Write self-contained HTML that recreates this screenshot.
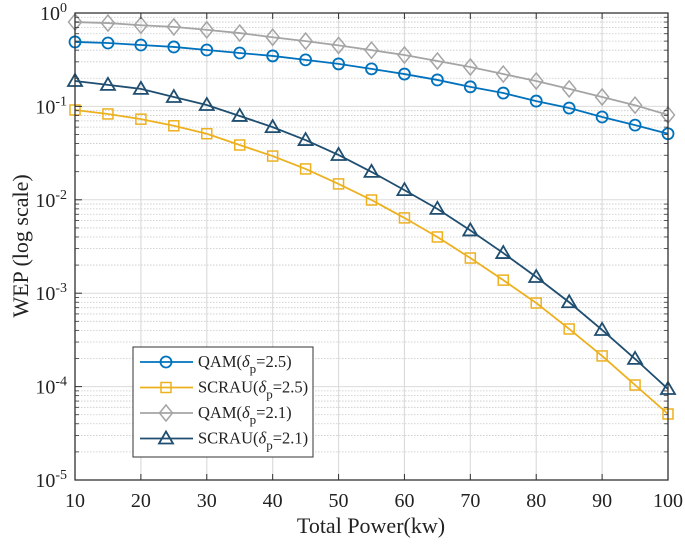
<!DOCTYPE html>
<html><head><meta charset="utf-8"><style>
html,body{margin:0;padding:0;background:#fff;}
svg{display:block;font-family:"Liberation Serif",serif;}
</style></head><body>
<svg id="chart" width="685" height="545" viewBox="0 0 685 545" xmlns="http://www.w3.org/2000/svg">
<rect width="685" height="545" fill="#fff"/>
<g id="grid"></g>
<g id="series"></g>
<g id="axes"></g>
<text x="371" y="533" font-size="22" text-anchor="middle" fill="#222">Total Power(kw)</text>
<text transform="translate(28,246) rotate(-90)" font-size="22" text-anchor="middle" fill="#222">WEP (log scale)</text>
<g id="legend"></g>
</svg>
<script>
const xValues=[10,15,20,25,30,35,40,45,50,55,60,65,70,75,80,85,90,95,100];
const qam25=[0.49,0.477,0.454,0.433,0.402,0.373,0.347,0.315,0.285,0.252,0.222,0.192,0.162,0.139,0.114,0.096,0.077,0.063,0.051];
const scrau25=[0.0915,0.083,0.073,0.062,0.051,0.0386,0.0294,0.0214,0.0148,0.00995,0.0064,0.0040,0.00238,0.00138,0.000785,0.000414,0.000213,0.000104,0.0000509];
const qam21=[0.80,0.78,0.74,0.71,0.66,0.61,0.55,0.50,0.45,0.40,0.355,0.306,0.264,0.222,0.187,0.154,0.126,0.103,0.081];
const scrau21=[0.187,0.170,0.154,0.126,0.1035,0.079,0.060,0.0436,0.0302,0.0199,0.0127,0.0080,0.0047,0.00269,0.00149,0.00080,0.000404,0.000198,0.0000942];
const xTicks=[10,20,30,40,50,60,70,80,90,100];
const yExps=[0,-1,-2,-3,-4,-5];
const seriesNames=["QAM(δ_p=2.5)","SCRAU(δ_p=2.5)","QAM(δ_p=2.1)","SCRAU(δ_p=2.1)"];

const L=75,R=668,T=13,B=480;
const NS="http://www.w3.org/2000/svg";
function xs(v){return L+(v-10)/90*(R-L);}
function ys(v){return T+(-Math.log10(v))/5*(B-T);}
function mk(tag,attrs,parent){const e=document.createElementNS(NS,tag);for(const k in attrs)e.setAttribute(k,attrs[k]);parent.appendChild(e);return e;}
const grid=document.getElementById('grid'),axes=document.getElementById('axes'),ser=document.getElementById('series'),leg=document.getElementById('legend');

for(let e=0;e>-5;e--){for(let m=2;m<=9;m++){const y=ys(m*Math.pow(10,e-1));
const g=mk('line',{x1:L,x2:R,y1:y,y2:y,stroke:'#c8c8c8','stroke-width':0.8,'stroke-dasharray':'1.5,1.5'},grid);

const t1=mk('line',{x1:L,x2:L+4,y1:y,y2:y,stroke:'#333','stroke-width':0.8},axes);
const t2=mk('line',{x1:R,x2:R-4,y1:y,y2:y,stroke:'#333','stroke-width':0.8},axes);}}
yExps.forEach(e=>{const y=ys(Math.pow(10,e));
const g=mk('line',{x1:L,x2:R,y1:y,y2:y,stroke:'#dcdcdc','stroke-width':1},grid);
const t=mk('text',{x:L-8,y:y+7,'font-size':20,'text-anchor':'end',fill:'#222'},axes);

t.innerHTML='10<tspan dy="-8" font-size="14">'+e+'</tspan>';
const tk=mk('line',{x1:L,x2:L+7,y1:y,y2:y,stroke:'#333','stroke-width':1},axes);});
xTicks.forEach(v=>{const x=xs(v);
const g=mk('line',{x1:x,x2:x,y1:T,y2:B,stroke:'#dcdcdc','stroke-width':1.2},grid);
const t=mk('text',{x:x,y:B+27,'font-size':20,'text-anchor':'middle',fill:'#222'},axes);t.textContent=v;

const a=mk('line',{x1:x,x2:x,y1:B,y2:B-6,stroke:'#333','stroke-width':1},axes);
const b=mk('line',{x1:x,x2:x,y1:T,y2:T+6,stroke:'#333','stroke-width':1},axes);});
const box=mk('rect',{x:L,y:T,width:R-L,height:B-T,fill:'none',stroke:'#333','stroke-width':1.3},axes);


function marker(type,x,y,color,parent){let e;
if(type==='o')e=mk('circle',{cx:x,cy:y,r:5.5,fill:'none',stroke:color,'stroke-width':1.8},parent);
else if(type==='s')e=mk('rect',{x:x-5,y:y-5,width:10,height:10,fill:'none',stroke:color,'stroke-width':1.5},parent);
else if(type==='d')e=mk('polygon',{points:`${x},${y-8} ${x+6.5},${y} ${x},${y+8} ${x-6.5},${y}`,fill:'none',stroke:color,'stroke-width':1.5},parent);
else e=mk('polygon',{points:`${x},${y-7} ${x+7},${y+5} ${x-7},${y+5}`,fill:'none',stroke:color,'stroke-width':1.8},parent);
return e;}
const defs=[[qam25,'#0072BD','o','qam-2-5'],[scrau25,'#EDB120','s','scrau-2-5'],[qam21,'#A5A5A5','d','qam-2-1'],[scrau21,'#1F4E70','t','scrau-2-1']];
defs.forEach(([data,c,m,n])=>{
const p=mk('polyline',{points:data.map((v,i)=>xs(xValues[i])+','+ys(v)).join(' '),fill:'none',stroke:c,'stroke-width':1.8},ser);

data.forEach((v,i)=>{const e=marker(m,xs(xValues[i]),ys(v),c,ser);
});});

const lb=mk('rect',{x:133,y:347,width:180,height:110,fill:'#fff',stroke:'#333','stroke-width':1},leg);

defs.forEach(([d,c,m,n],i)=>{const y=362+i*25.5;
const g=mk('g',{},leg);
mk('line',{x1:140,x2:193,y1:y,y2:y,stroke:c,'stroke-width':1.8},g);marker(m,166,y,c,g);
const parts=seriesNames[i].split('(δ_p=');
const t=mk('text',{x:198,y:y+5,'font-size':16.5,fill:'#222'},g);
t.innerHTML=parts[0]+'(<tspan font-style="italic">δ</tspan><tspan dy="6" font-size="13">p</tspan><tspan dy="-6">='+parts[1]+'</tspan>';});
</script>
</body></html>
